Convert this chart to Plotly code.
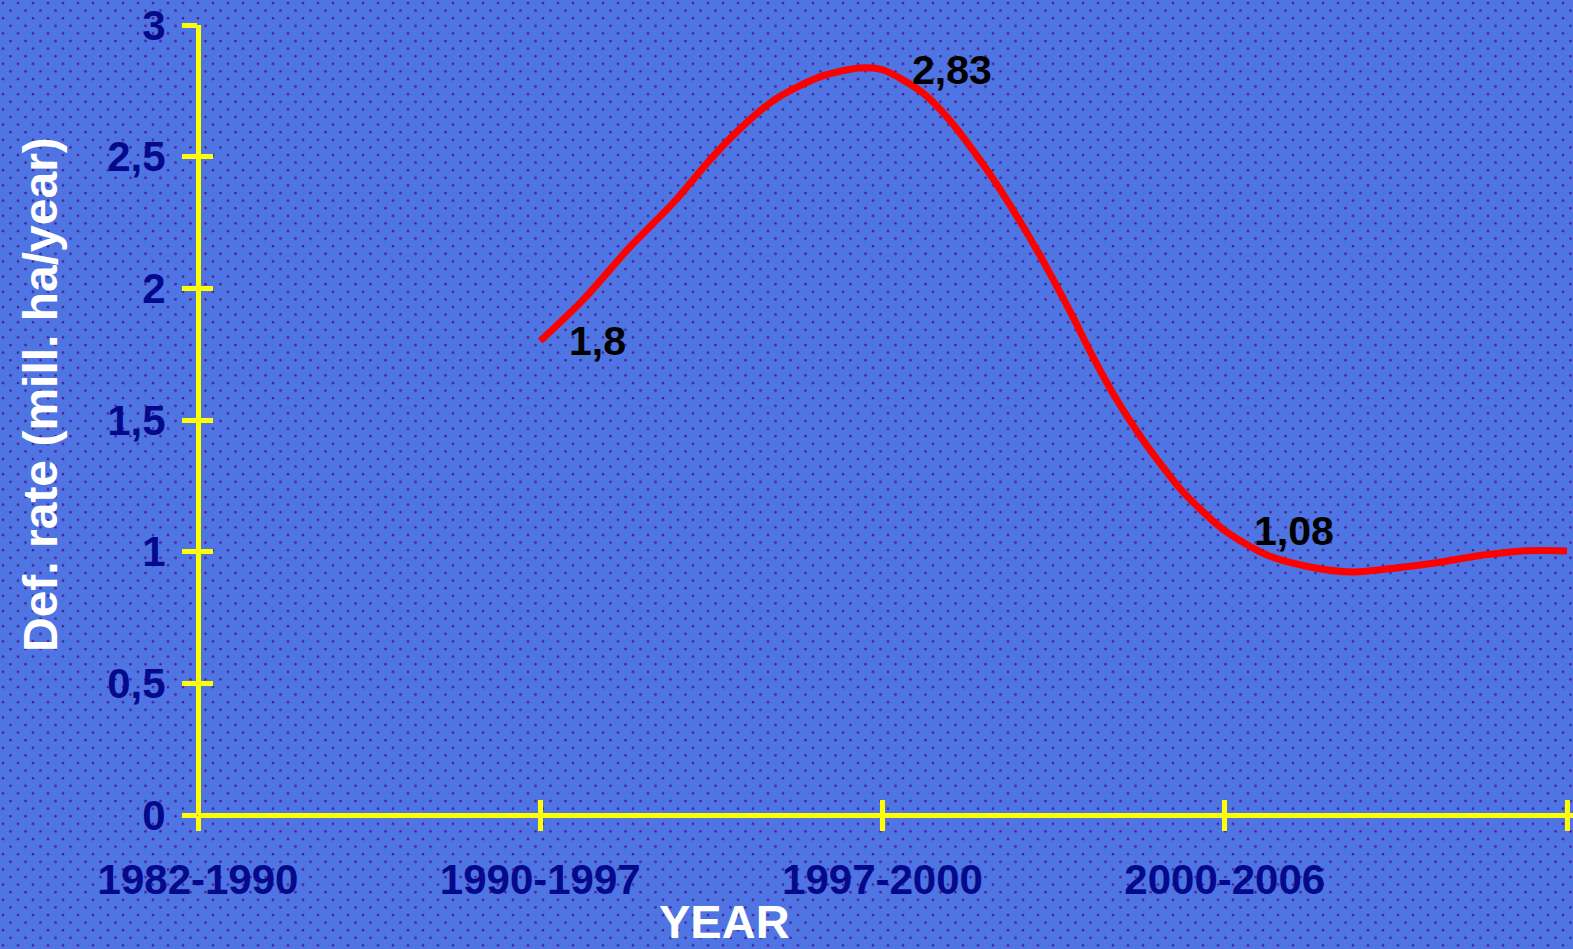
import base64
import plotly.graph_objects as go

# ---------------- data ----------------
categories = ["1982-1990", "1990-1997", "1997-2000", "2000-2006", ""]
category_pos = [0, 1, 2, 3, 4]

y_tick_vals = [0, 0.5, 1, 1.5, 2, 2.5, 3]
y_tick_text = ["0", "0,5", "1", "1,5", "2", "2,5", "3"]

# labelled values
key_x = [1, 2, 3]
key_values = [1.8, 2.83, 1.08]

# smoothed curve
curve_x = [1.0, 1.125, 1.262, 1.388, 1.496, 1.575, 1.680, 1.817, 1.934, 2.0,
           2.118, 2.188, 2.305, 2.381, 2.451, 2.498, 2.557, 2.615, 2.685, 2.761,
           2.820, 2.869, 2.928, 3.0, 3.123, 3.249, 3.375, 3.512, 3.629, 3.755,
           3.871, 4.0]
curve_y = [1.80, 1.956, 2.157, 2.324, 2.488, 2.595, 2.712, 2.803, 2.837, 2.83,
           2.742, 2.651, 2.450, 2.298, 2.146, 2.035, 1.890, 1.739, 1.576, 1.424,
           1.320, 1.240, 1.162, 1.08, 0.987, 0.942, 0.923, 0.940, 0.960, 0.987,
           1.003, 1.003]

# ---------------- style ----------------
W, H = 1573, 949
ML, MR, MT, MB = 198, 0, 25, 134
BG = "#4f74e3"
DOT = "#4c2390"
YELLOW = "#ffff00"
NAVY = "#050a8c"
FONT = "Liberation Sans, Arial, sans-serif"

plot_w = W - ML - MR
plot_h = H - MT - MB
px_per_x = (1567 - 198) / 4.0
x_max = plot_w / px_per_x

svg = (
    f'<svg xmlns="http://www.w3.org/2000/svg" width="{W}" height="{H}">'
    '<defs><pattern id="p" width="15" height="15.2" patternUnits="userSpaceOnUse">'
    f'<circle cx="3" cy="3" r="1.3" fill="{DOT}"/>'
    f'<circle cx="10.5" cy="10.6" r="1.3" fill="{DOT}"/>'
    '</pattern></defs>'
    f'<rect width="100%" height="100%" fill="{BG}"/>'
    '<rect width="100%" height="100%" fill="url(#p)"/></svg>'
)
bg_src = "data:image/svg+xml;base64," + base64.b64encode(svg.encode()).decode()

fig = go.Figure()

fig.add_trace(go.Scatter(
    x=curve_x, y=curve_y, mode="lines",
    line=dict(color="#ff0000", width=7, shape="spline", smoothing=0.8),
    hoverinfo="skip", showlegend=False,
))

# helper trace for the overlaid axes (inner halves of the ticks)
fig.add_trace(go.Scatter(x=[], y=[], xaxis="x2", yaxis="y2",
                         showlegend=False, hoverinfo="skip"))

annotations = []
for xv, yv in zip(key_x, key_values):
    annotations.append(dict(
        x=xv, y=yv, xref="x", yref="y",
        text=f"{yv:g}".replace(".", ","),
        showarrow=False, xanchor="left", yanchor="middle", xshift=27,
        font=dict(family=FONT, size=41, color="#000000", weight="bold"),
    ))

annotations.append(dict(
    x=(40 - ML) / plot_w, y=(H - MB - 395) / plot_h, xref="paper", yref="paper",
    text="Def. rate (mill. ha/year)", textangle=-90, showarrow=False,
    xanchor="center", yanchor="middle",
    font=dict(family=FONT, size=48, color="#ffffff", weight="bold"),
))
annotations.append(dict(
    x=(724 - ML) / plot_w, y=(H - MB - 921) / plot_h, xref="paper", yref="paper",
    text="YEAR", showarrow=False, xanchor="center", yanchor="middle",
    font=dict(family=FONT, size=47, color="#ffffff", weight="bold"),
))

tick_font = dict(family=FONT, size=42, color=NAVY, weight="bold")

fig.update_layout(
    width=W, height=H,
    margin=dict(l=ML, r=MR, t=MT, b=MB, pad=0),
    paper_bgcolor=BG, plot_bgcolor="rgba(0,0,0,0)",
    showlegend=False,
    images=[dict(
        source=bg_src, xref="paper", yref="paper",
        x=-ML / plot_w, y=1 + MT / plot_h,
        sizex=W / plot_w, sizey=H / plot_h,
        xanchor="left", yanchor="top", sizing="stretch", layer="below",
    )],
    xaxis=dict(
        range=[0, x_max], tickmode="array", tickvals=category_pos, ticktext=categories,
        showgrid=False, showline=False,
        zeroline=True, zerolinecolor=YELLOW, zerolinewidth=5,
        ticks="outside", ticklen=15, tickwidth=5, tickcolor=YELLOW,
        tickfont=tick_font, ticklabelstandoff=13, fixedrange=True,
    ),
    yaxis=dict(
        range=[0, 3], tickmode="array", tickvals=y_tick_vals, ticktext=y_tick_text,
        showgrid=False, showline=False,
        zeroline=True, zerolinecolor=YELLOW, zerolinewidth=5,
        ticks="outside", ticklen=15, tickwidth=5, tickcolor=YELLOW,
        tickfont=tick_font, ticklabelstandoff=8, fixedrange=True,
    ),
    xaxis2=dict(
        overlaying="x", anchor="y2", side="bottom", range=[0, x_max],
        tickmode="array", tickvals=category_pos, showticklabels=False,
        showgrid=False, zeroline=False, showline=False,
        ticks="inside", ticklen=15, tickwidth=5, tickcolor=YELLOW, fixedrange=True,
    ),
    yaxis2=dict(
        overlaying="y", anchor="x2", side="left", range=[0, 3],
        tickmode="array", tickvals=y_tick_vals, showticklabels=False,
        showgrid=False, zeroline=False, showline=False,
        ticks="inside", ticklen=15, tickwidth=5, tickcolor=YELLOW, fixedrange=True,
    ),
    annotations=annotations,
)

fig.write_html(
    "out.html",
    config={"displayModeBar": False},
    post_script="document.body.style.margin='0';document.body.style.overflow='hidden';",
)
